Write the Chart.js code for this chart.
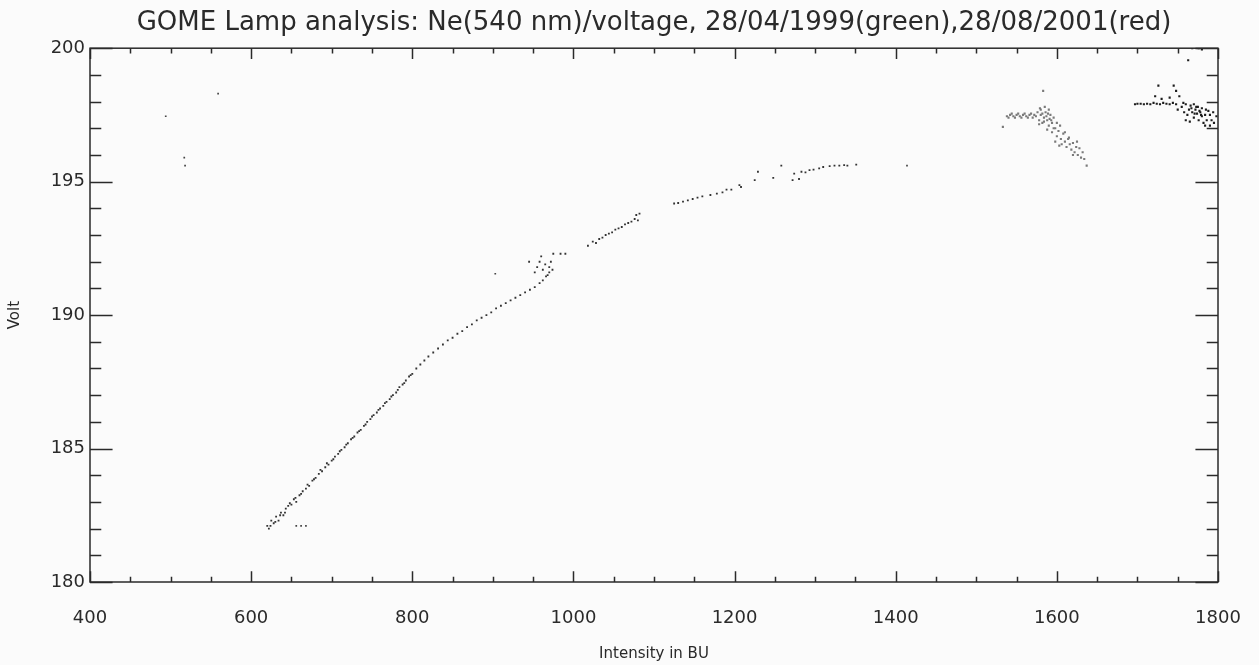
<!DOCTYPE html>
<html>
<head>
<meta charset="utf-8">
<title>GOME Lamp analysis</title>
<script src="https://cdn.jsdelivr.net/npm/chart.js@4/dist/chart.umd.min.js"></script>
<style>
  html, body { margin:0; padding:0; background:#fbfbfb; }
  #wrap { width:1259px; height:665px; }
</style>
</head>
<body>
<div id="wrap"><canvas id="chart" width="1259" height="665"></canvas></div>
<script>
// axis ranges and ticks
const X_RANGE = [400, 1800];
const Y_RANGE = [180, 200];
const X_MAJOR = [400, 600, 800, 1000, 1200, 1400, 1600, 1800];
const Y_MAJOR = [180, 185, 190, 195, 200];
const X_MINOR_STEP = 50;
const Y_MINOR_STEP = 1;

const TITLE = 'GOME Lamp analysis: Ne(540 nm)/voltage, 28/04/1999(green),28/08/2001(red)';

// main intensity/voltage curve  [intensity, volt]
const CURVE = [
    [620,182.1],[622,182.0],[624,182.1],[625,182.3],[628,182.2],[630,182.25],[631,182.45],[634,182.3],
    [636,182.5],[637,182.6],[640,182.5],[642,182.6],[643,182.75],[646,182.85],[648,182.95],[650,182.9],
    [653,183.1],[655,183.15],[656,183.0],[660,183.25],[662,183.3],[664,183.4],[668,183.5],[670,183.65],
    [672,183.6],[676,183.8],[678,183.85],[680,183.9],[684,184.05],[686,184.2],[688,184.15],[692,184.3],
    [694,184.45],[696,184.4],[700,184.55],[702,184.6],[704,184.7],[708,184.8],[710,184.9],[712,184.95],
    [716,185.05],[718,185.15],[720,185.2],[724,185.35],[726,185.4],[728,185.45],[732,185.6],[734,185.65],
    [736,185.7],[740,185.85],[742,185.9],[744,186.0],[748,186.1],[750,186.2],[752,186.25],[756,186.35],
    [758,186.45],[760,186.5],[764,186.6],[766,186.7],[768,186.75],[772,186.85],[774,186.95],[776,187.0],
    [780,187.1],[782,187.2],[784,187.3],[788,187.4],[790,187.45],[792,187.55],[796,187.7],[798,187.75],
    [800,187.8],[805,188.0],[810,188.15],[815,188.3],[820,188.45],[826,188.6],[832,188.75],[838,188.9],
    [844,189.05],[850,189.15],[856,189.3],[862,189.4],[868,189.55],[874,189.65],[880,189.8],[886,189.9],
    [892,190.0],[898,190.1],[904,190.25],[910,190.35],[916,190.45],[922,190.55],[928,190.65],[934,190.75],
    [940,190.85],[946,190.95],[952,191.05],[958,191.2],[962,191.3],[966,191.45],[970,191.6],
    [952,191.6],[955,191.8],[958,192.0],[962,191.7],[965,191.9],[968,191.5],[970,191.8],[972,192.0],
    [974,191.7],[960,192.2],[945,192.0],[975,192.3],[984,192.3],[990,192.3],
    [1018,192.6],[1024,192.75],[1028,192.7],[1032,192.85],[1036,192.9],[1040,193.0],[1044,193.05],
    [1048,193.1],[1052,193.2],[1056,193.25],[1060,193.3],[1064,193.4],[1068,193.45],[1072,193.5],
    [1076,193.6],[1078,193.75],[1080,193.55],[1082,193.8],
    [1125,194.18],[1130,194.2],[1136,194.25],[1142,194.3],[1148,194.35],[1154,194.4],[1160,194.45],
    [1170,194.5],[1178,194.55],[1185,194.6],[1190,194.7],[1196,194.7],[1206,194.87],[1208,194.8],
    [1225,195.06],[1229,195.37],[1248,195.14],[1258,195.6],[1272,195.06],[1274,195.3],[1280,195.1],
    [1283,195.37],[1288,195.35],[1293,195.43],[1298,195.45],[1305,195.5],[1310,195.55],[1318,195.58],
    [1324,195.6],[1330,195.6],[1336,195.62],[1340,195.6],[1351,195.64]
];

// isolated points off the curve
const STRAY = [
    [494,197.45],[559,198.3],[517,195.9],[518,195.6],[903,191.55],[1414,195.6],
    [656,182.1],[662,182.1],[668,182.1]
];

// 28/04/1999 cluster (green)
const GREEN = [
    [1538,197.45],[1540,197.4],[1542,197.5],[1546,197.45],[1548,197.4],[1550,197.5],[1554,197.45],
    [1556,197.4],[1558,197.5],[1562,197.45],[1564,197.4],[1566,197.5],[1570,197.4],[1572,197.5],
    [1574,197.45],[1576,197.6],[1578,197.3],[1580,197.5],[1582,197.2],[1584,197.4],[1586,197.6],
    [1588,197.3],[1590,197.1],[1592,197.5],[1594,197.2],[1596,197.4],[1598,197.0],[1580,197.7],
    [1585,197.8],[1583,198.4],[1579,197.75],[1590,197.7],[1600,197.2],[1578,197.15],[1588,196.95],
    [1594,196.85],[1596,197.0],[1602,196.9],[1604,197.1],[1600,196.7],[1605,196.6],[1608,196.8],
    [1610,196.5],[1612,196.3],[1614,196.6],[1616,196.4],[1618,196.2],[1620,196.45],[1622,196.1],
    [1624,196.3],[1626,196.0],[1628,196.25],[1630,195.9],[1632,196.1],[1634,195.85],[1637,195.6],
    [1610,196.85],[1606,196.4],[1615,196.65],[1620,196.0],[1625,196.5],[1598,196.5],[1603,196.35],
    [1533,197.05],[1582,197.55],[1587,197.45],[1591,197.35],[1584,197.25],[1589,197.55],[1593,197.3],
    [1544,197.55],[1552,197.55],[1560,197.55],[1568,197.55]
];

// 28/08/2001 cluster (red)
const RED = [
    [1697,197.9],[1700,197.92],[1704,197.92],[1708,197.9],[1712,197.92],[1716,197.9],[1720,197.95],
    [1724,197.92],[1728,197.9],[1732,197.95],[1736,197.92],[1740,197.9],[1744,197.95],[1748,197.9],
    [1722,198.2],[1726,198.6],[1748,198.4],[1730,198.1],[1740,198.15],[1752,198.2],[1745,198.6],
    [1755,197.8],[1758,197.6],[1760,197.9],[1762,197.5],[1764,197.7],[1766,197.85],[1768,197.6],
    [1770,197.4],[1772,197.7],[1774,197.55],[1776,197.3],[1778,197.6],[1780,197.45],[1782,197.2],
    [1784,197.5],[1786,197.3],[1788,197.65],[1790,197.1],[1784,197.1],[1792,197.3],[1795,197.2],
    [1760,197.3],[1765,197.25],[1770,197.9],[1775,197.8],[1780,197.75],[1785,197.7],[1790,197.5],
    [1794,197.6],[1798,197.45],[1757,197.95],[1750,197.7],
    [1763,199.55],[1768,200.0],[1776,200.0],[1780,199.95],
    [1767,197.75],[1771,197.55],[1773,197.8],[1777,197.65],[1779,197.5]
];

const FONT = 'DejaVu Sans';
const INK = '#2a2a2a';

function toXY(arr) { return arr.map(p => ({ x: p[0], y: p[1] })); }

function dots(label, arr, color, r) {
    return {
        label: label,
        data: toXY(arr),
        pointStyle: 'rect',
        pointRadius: r,
        pointBorderWidth: 0,
        backgroundColor: color,
        borderColor: color,
        showLine: false
    };
}

// IDL style frame: box round the plot with ticks pointing inward on all four sides
const frame = {
    id: 'frame',
    beforeDraw(chart) {
        const c = chart.ctx;
        c.save();
        c.fillStyle = '#fbfbfb';
        c.fillRect(0, 0, chart.width, chart.height);
        c.restore();
    },
    afterDraw(chart) {
        const { ctx, chartArea: a, scales: { x, y } } = chart;
        const xMaj = 0.02 * (a.bottom - a.top), yMaj = 0.02 * (a.right - a.left);
        ctx.save();
        ctx.strokeStyle = INK;
        ctx.lineWidth = 1.5;
        ctx.strokeRect(a.left, a.top, a.right - a.left, a.bottom - a.top);
        ctx.beginPath();
        for (let v = X_RANGE[0]; v <= X_RANGE[1]; v += X_MINOR_STEP) {
            const px = Math.round(x.getPixelForValue(v)) + 0.5;
            const len = X_MAJOR.includes(v) ? xMaj : xMaj / 2;
            ctx.moveTo(px, a.bottom); ctx.lineTo(px, a.bottom - len);
            ctx.moveTo(px, a.top); ctx.lineTo(px, a.top + len);
        }
        for (let v = Y_RANGE[0]; v <= Y_RANGE[1]; v += Y_MINOR_STEP) {
            const py = Math.round(y.getPixelForValue(v)) + 0.5;
            const len = Y_MAJOR.includes(v) ? yMaj : yMaj / 2;
            ctx.moveTo(a.left, py); ctx.lineTo(a.left + len, py);
            ctx.moveTo(a.right, py); ctx.lineTo(a.right - len, py);
        }
        ctx.stroke();
        ctx.restore();
    }
};

new Chart(document.getElementById('chart'), {
    type: 'scatter',
    data: {
        datasets: [
            dots('curve', CURVE, '#333333', 1.3),
            dots('stray', STRAY, '#444444', 1.2),
            dots('28/04/1999', GREEN, '#7a7a7a', 1.5),
            dots('28/08/2001', RED, '#1c1c1c', 1.5)
        ]
    },
    options: {
        responsive: false,
        animation: false,
        layout: { padding: { left: 6, right: 41, top: 0, bottom: 2 } },
        plugins: {
            legend: { display: false },
            tooltip: { enabled: false },
            title: {
                display: true,
                fullSize: false,
                text: TITLE,
                color: INK,
                font: { family: FONT, size: 26, weight: 'normal', lineHeight: 1.2 },
                padding: { top: 8, bottom: 9 }
            }
        },
        scales: {
            x: {
                type: 'linear',
                min: X_RANGE[0], max: X_RANGE[1],
                grid: { display: false, drawTicks: false },
                border: { display: false },
                ticks: {
                    stepSize: 200, color: INK, padding: 26, maxRotation: 0,
                    font: { family: FONT, size: 18 },
                    callback: v => String(v)
                },
                title: {
                    display: true, text: 'Intensity in BU', color: INK,
                    font: { family: FONT, size: 15 }, padding: { top: 6, bottom: 0 }
                },
                afterFit(s) { s.height = 81; s.paddingRight = 0; }
            },
            y: {
                type: 'linear',
                min: Y_RANGE[0], max: Y_RANGE[1],
                grid: { display: false, drawTicks: false },
                border: { display: false },
                ticks: {
                    stepSize: 5, color: INK, padding: 5,
                    font: { family: FONT, size: 18 },
                    callback: v => String(v)
                },
                title: {
                    display: true, text: 'Volt', color: INK,
                    font: { family: FONT, size: 15 }, padding: { top: 0, bottom: 10 }
                },
                afterFit(s) { s.width = 84; }
            }
        }
    },
    plugins: [frame]
});
</script>
</body>
</html>
